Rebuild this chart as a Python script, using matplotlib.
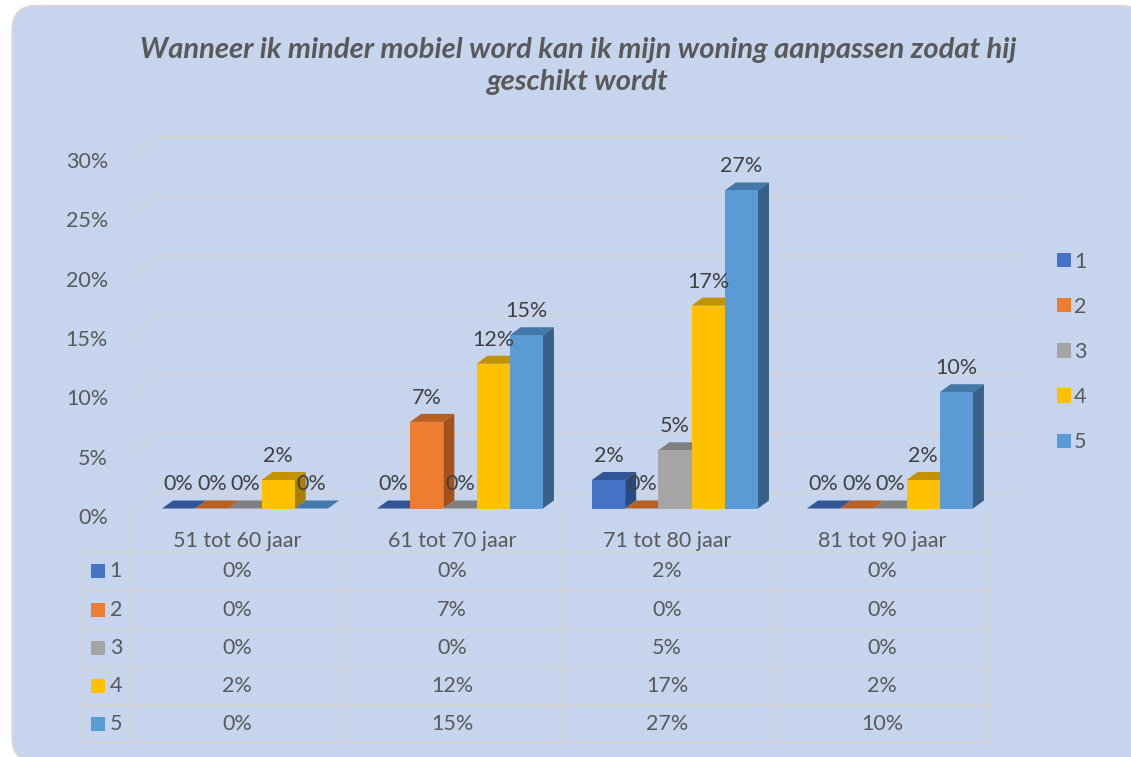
import matplotlib
matplotlib.use("Agg")
import matplotlib.pyplot as plt
from matplotlib.patches import FancyBboxPatch, Patch

plt.rcParams['font.family'] = ['Lato', 'DejaVu Sans']

W, H = 1131, 757

title = "Wanneer ik minder mobiel word kan ik mijn woning aanpassen zodat hij\ngeschikt wordt"
categories = ["51 tot 60 jaar", "61 tot 70 jaar", "71 tot 80 jaar", "81 tot 90 jaar"]
series_names = ["1", "2", "3", "4", "5"]
s1 = [0, 0, 2.4, 0]
s2 = [0, 7.3, 0, 0]
s3 = [0, 0, 4.9, 0]
s4 = [2.4, 12.2, 17.1, 2.4]
s5 = [0, 14.6, 26.8, 9.8]
y_ticks = [0, 5, 10, 15, 20, 25, 30]

front_cols = ["#4472C4", "#ED7D31", "#A5A5A5", "#FFC000", "#5B9BD5"]
top_cols = ["#325597", "#B85F22", "#7F7F7F", "#C29200", "#4478A8"]
side_cols = ["#2A4A85", "#A4521C", "#6E6E6E", "#A87F00", "#376188"]
grid_col = "#D2D4D8"
text_col = "#595959"
label_col = "#404040"
FS = 15.5


def px_box(left, top, right, bottom):
    return [left / W, 1 - bottom / H, (right - left) / W, (bottom - top) / H]


fig = plt.figure(figsize=(W / 100, H / 100), dpi=100, facecolor="white")

# backdrop, in pixels
bg = fig.add_axes([0, 0, 1, 1])
bg.set_xlim(0, W)
bg.set_ylim(H, 0)
bg.axis("off")
bg.add_patch(FancyBboxPatch((12.5, 6), 1132.5, 756, boxstyle="round,pad=0,rounding_size=24",
                            fc="#C6D4EE", ec="#D6D6D6", lw=1.6))
bg.text(578, 66, title, ha="center", va="center", fontsize=21, fontweight="bold",
        fontstyle="italic", color=text_col, linespacing=1.25)

# plot area: x in categories, y in percent
ax = fig.add_axes(px_box(129.5, 152.5, 989.5, 508.5), facecolor="none")
ax.set_xlim(0, 4)
ax.set_ylim(0, 30)
ax.axis("off")

GRID_BACK = 1.3
GRID_FRONT = -0.5
GRID_DX = 0.128
for t in y_ticks:
    ax.plot([0, GRID_DX, 4 + GRID_DX], [t + GRID_FRONT, t + GRID_BACK, t + GRID_BACK],
            color=grid_col, lw=1.5, clip_on=False, zorder=1, solid_joinstyle="miter")
    ax.text(-0.1, t + GRID_FRONT - 0.3, f"{t}%", ha="right", va="center", fontsize=FS, color=text_col)

START = 0.151
BAR_W = 0.1544
DX = 11 / 215
DY = 8 / 11.87
all_series = [s1, s2, s3, s4, s5]
for i, vals in enumerate(all_series):
    for c, v in enumerate(vals):
        x0 = c + START + i * BAR_W
        x1 = x0 + BAR_W
        z = 3 + i
        ax.fill([x0, x1, x1 + DX, x0 + DX], [v, v, v + DY, v + DY], color=top_cols[i], lw=0, zorder=z, clip_on=False)
        if v > 0:
            ax.fill([x1, x1 + DX, x1 + DX, x1], [0, DY, v + DY, v], color=side_cols[i], lw=0, zorder=z, clip_on=False)
        ax.bar(x0, v, width=BAR_W, align="edge", color=front_cols[i], lw=0, zorder=z + 0.1)
        ax.annotate(f"{v:.0f}%", (x0 + BAR_W / 2, v), xytext=(0, 24), textcoords="offset pixels",
                    ha="center", va="center", fontsize=FS, color=label_col, zorder=20,
                    annotation_clip=False)

# data table below the plot
tb = fig.add_axes(px_box(129.5, 552.3, 989.5, 743), facecolor="none")
tb.set_xlim(0, 4)
tb.set_ylim(5, 0)
tb.axis("off")
KEY_X = -0.1465
ROW_LEFT = -0.216
TOP_ROW = -0.98
for r in range(6):
    tb.plot([ROW_LEFT, 4], [r, r], color=grid_col, lw=1.5, clip_on=False)
for c in range(5):
    tb.plot([c, c], [TOP_ROW, 5], color=grid_col, lw=1.5, clip_on=False)
tb.plot([ROW_LEFT, ROW_LEFT], [0, 5], color=grid_col, lw=1.5, clip_on=False)
for c, name in enumerate(categories):
    tb.text(c + 0.5, -0.3, name, ha="center", va="center", fontsize=FS, color=text_col)
for r, vals in enumerate(all_series):
    tb.scatter([KEY_X], [r + 0.5], marker="s", s=101, color=front_cols[r], lw=0, clip_on=False)
    tb.text(-0.063, r + 0.5, series_names[r], ha="center", va="center", fontsize=FS, color=text_col)
    for c, v in enumerate(vals):
        tb.text(c + 0.5, r + 0.5, f"{v:.0f}%", ha="center", va="center", fontsize=FS, color=text_col)

handles = [Patch(color=front_cols[i], lw=0, label=series_names[i]) for i in range(5)]
fig.legend(handles=handles, loc="center left", bbox_to_anchor=(1057 / W, 1 - 352 / H), frameon=False,
           fontsize=FS, labelcolor=text_col, handlelength=0.65, handleheight=0.65,
           labelspacing=1.17, handletextpad=0.15, borderpad=0, borderaxespad=0)

fig.savefig("out.png", dpi=100, facecolor="white")
